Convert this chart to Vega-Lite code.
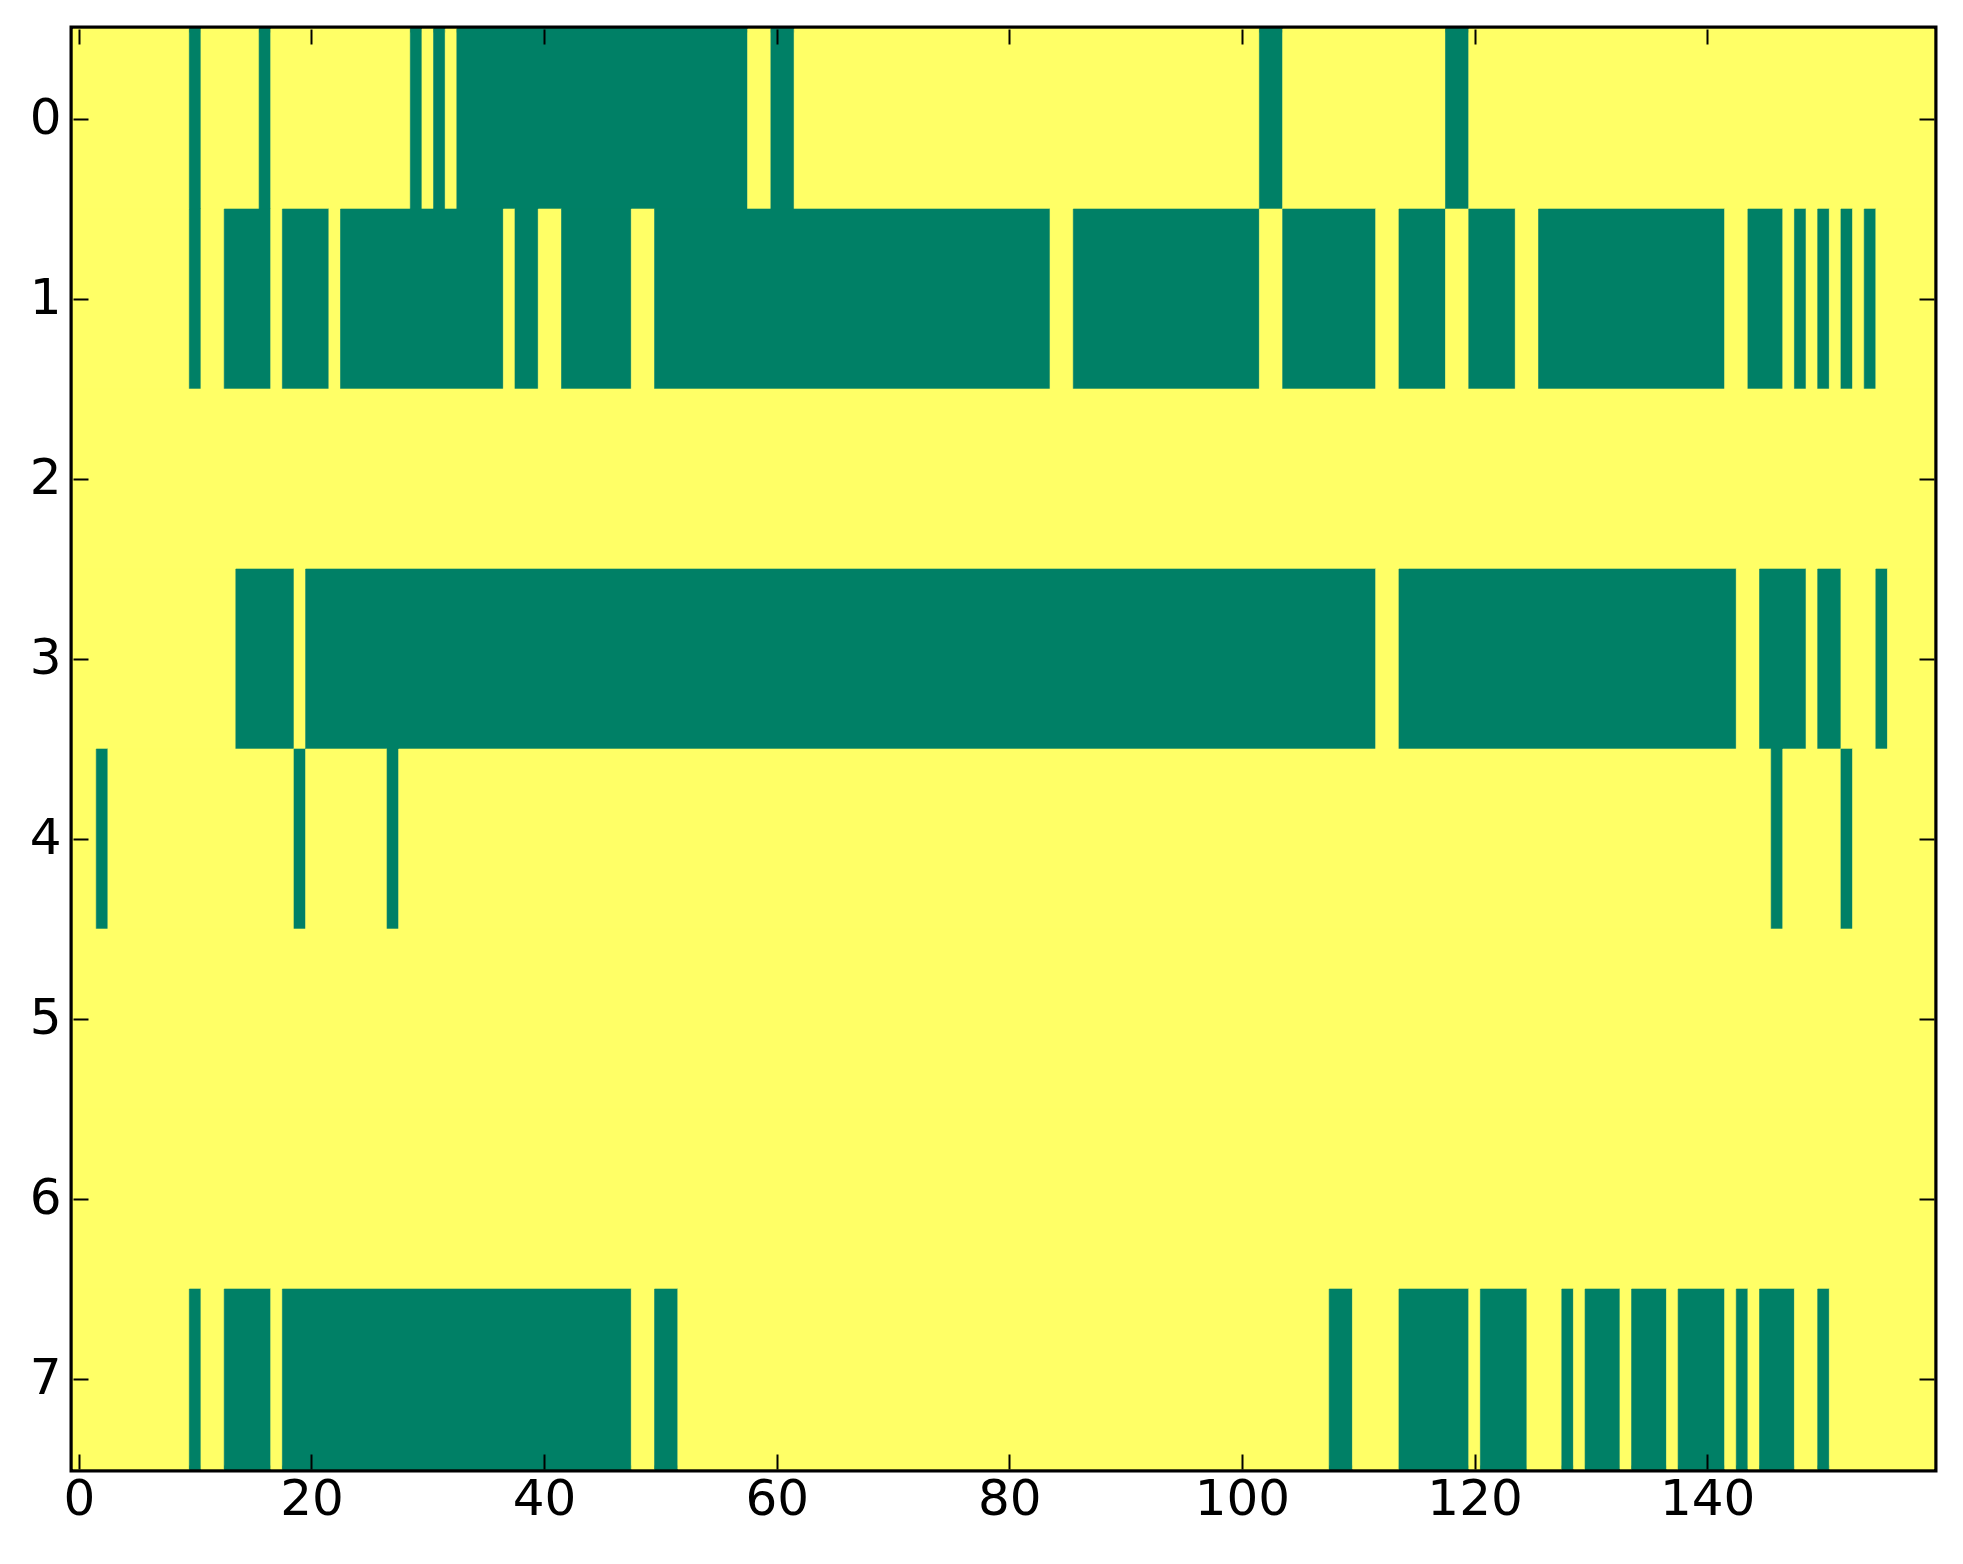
{
  "$schema": "https://vega.github.io/schema/vega-lite/v6.json",
  "width": 1861,
  "height": 1440,
  "autosize": {"type": "none"},
  "padding": {"left": 73, "top": 29, "right": 29, "bottom": 95},
  "background": "white",
  "config": {
    "view": {"stroke": "black", "strokeWidth": 7},
    "axis": {
      "grid": false,
      "labelFont": "DejaVu Sans",
      "labelFontSize": 50,
      "labelColor": "black",
      "title": null
    }
  },
  "data": {
    "values": [
      {"row": 0, "s": -0.5, "e": 9.5, "v": 1},
      {"row": 0, "s": 9.5, "e": 10.5, "v": 0},
      {"row": 0, "s": 10.5, "e": 15.5, "v": 1},
      {"row": 0, "s": 15.5, "e": 16.5, "v": 0},
      {"row": 0, "s": 16.5, "e": 28.5, "v": 1},
      {"row": 0, "s": 28.5, "e": 29.5, "v": 0},
      {"row": 0, "s": 29.5, "e": 30.5, "v": 1},
      {"row": 0, "s": 30.5, "e": 31.5, "v": 0},
      {"row": 0, "s": 31.5, "e": 32.5, "v": 1},
      {"row": 0, "s": 32.5, "e": 57.5, "v": 0},
      {"row": 0, "s": 57.5, "e": 59.5, "v": 1},
      {"row": 0, "s": 59.5, "e": 61.5, "v": 0},
      {"row": 0, "s": 61.5, "e": 101.5, "v": 1},
      {"row": 0, "s": 101.5, "e": 103.5, "v": 0},
      {"row": 0, "s": 103.5, "e": 117.5, "v": 1},
      {"row": 0, "s": 117.5, "e": 119.5, "v": 0},
      {"row": 0, "s": 119.5, "e": 159.5, "v": 1},

      {"row": 1, "s": -0.5, "e": 9.5, "v": 1},
      {"row": 1, "s": 9.5, "e": 10.5, "v": 0},
      {"row": 1, "s": 10.5, "e": 12.5, "v": 1},
      {"row": 1, "s": 12.5, "e": 16.5, "v": 0},
      {"row": 1, "s": 16.5, "e": 17.5, "v": 1},
      {"row": 1, "s": 17.5, "e": 21.5, "v": 0},
      {"row": 1, "s": 21.5, "e": 22.5, "v": 1},
      {"row": 1, "s": 22.5, "e": 36.5, "v": 0},
      {"row": 1, "s": 36.5, "e": 37.5, "v": 1},
      {"row": 1, "s": 37.5, "e": 39.5, "v": 0},
      {"row": 1, "s": 39.5, "e": 41.5, "v": 1},
      {"row": 1, "s": 41.5, "e": 47.5, "v": 0},
      {"row": 1, "s": 47.5, "e": 49.5, "v": 1},
      {"row": 1, "s": 49.5, "e": 83.5, "v": 0},
      {"row": 1, "s": 83.5, "e": 85.5, "v": 1},
      {"row": 1, "s": 85.5, "e": 101.5, "v": 0},
      {"row": 1, "s": 101.5, "e": 103.5, "v": 1},
      {"row": 1, "s": 103.5, "e": 111.5, "v": 0},
      {"row": 1, "s": 111.5, "e": 113.5, "v": 1},
      {"row": 1, "s": 113.5, "e": 117.5, "v": 0},
      {"row": 1, "s": 117.5, "e": 119.5, "v": 1},
      {"row": 1, "s": 119.5, "e": 123.5, "v": 0},
      {"row": 1, "s": 123.5, "e": 125.5, "v": 1},
      {"row": 1, "s": 125.5, "e": 141.5, "v": 0},
      {"row": 1, "s": 141.5, "e": 143.5, "v": 1},
      {"row": 1, "s": 143.5, "e": 146.5, "v": 0},
      {"row": 1, "s": 146.5, "e": 147.5, "v": 1},
      {"row": 1, "s": 147.5, "e": 148.5, "v": 0},
      {"row": 1, "s": 148.5, "e": 149.5, "v": 1},
      {"row": 1, "s": 149.5, "e": 150.5, "v": 0},
      {"row": 1, "s": 150.5, "e": 151.5, "v": 1},
      {"row": 1, "s": 151.5, "e": 152.5, "v": 0},
      {"row": 1, "s": 152.5, "e": 153.5, "v": 1},
      {"row": 1, "s": 153.5, "e": 154.5, "v": 0},
      {"row": 1, "s": 154.5, "e": 159.5, "v": 1},

      {"row": 2, "s": -0.5, "e": 159.5, "v": 1},

      {"row": 3, "s": -0.5, "e": 13.5, "v": 1},
      {"row": 3, "s": 13.5, "e": 18.5, "v": 0},
      {"row": 3, "s": 18.5, "e": 19.5, "v": 1},
      {"row": 3, "s": 19.5, "e": 111.5, "v": 0},
      {"row": 3, "s": 111.5, "e": 113.5, "v": 1},
      {"row": 3, "s": 113.5, "e": 142.5, "v": 0},
      {"row": 3, "s": 142.5, "e": 144.5, "v": 1},
      {"row": 3, "s": 144.5, "e": 148.5, "v": 0},
      {"row": 3, "s": 148.5, "e": 149.5, "v": 1},
      {"row": 3, "s": 149.5, "e": 151.5, "v": 0},
      {"row": 3, "s": 151.5, "e": 154.5, "v": 1},
      {"row": 3, "s": 154.5, "e": 155.5, "v": 0},
      {"row": 3, "s": 155.5, "e": 159.5, "v": 1},

      {"row": 4, "s": -0.5, "e": 1.5, "v": 1},
      {"row": 4, "s": 1.5, "e": 2.5, "v": 0},
      {"row": 4, "s": 2.5, "e": 18.5, "v": 1},
      {"row": 4, "s": 18.5, "e": 19.5, "v": 0},
      {"row": 4, "s": 19.5, "e": 26.5, "v": 1},
      {"row": 4, "s": 26.5, "e": 27.5, "v": 0},
      {"row": 4, "s": 27.5, "e": 145.5, "v": 1},
      {"row": 4, "s": 145.5, "e": 146.5, "v": 0},
      {"row": 4, "s": 146.5, "e": 151.5, "v": 1},
      {"row": 4, "s": 151.5, "e": 152.5, "v": 0},
      {"row": 4, "s": 152.5, "e": 159.5, "v": 1},

      {"row": 5, "s": -0.5, "e": 159.5, "v": 1},

      {"row": 6, "s": -0.5, "e": 159.5, "v": 1},

      {"row": 7, "s": -0.5, "e": 9.5, "v": 1},
      {"row": 7, "s": 9.5, "e": 10.5, "v": 0},
      {"row": 7, "s": 10.5, "e": 12.5, "v": 1},
      {"row": 7, "s": 12.5, "e": 16.5, "v": 0},
      {"row": 7, "s": 16.5, "e": 17.5, "v": 1},
      {"row": 7, "s": 17.5, "e": 47.5, "v": 0},
      {"row": 7, "s": 47.5, "e": 49.5, "v": 1},
      {"row": 7, "s": 49.5, "e": 51.5, "v": 0},
      {"row": 7, "s": 51.5, "e": 107.5, "v": 1},
      {"row": 7, "s": 107.5, "e": 109.5, "v": 0},
      {"row": 7, "s": 109.5, "e": 113.5, "v": 1},
      {"row": 7, "s": 113.5, "e": 119.5, "v": 0},
      {"row": 7, "s": 119.5, "e": 120.5, "v": 1},
      {"row": 7, "s": 120.5, "e": 124.5, "v": 0},
      {"row": 7, "s": 124.5, "e": 127.5, "v": 1},
      {"row": 7, "s": 127.5, "e": 128.5, "v": 0},
      {"row": 7, "s": 128.5, "e": 129.5, "v": 1},
      {"row": 7, "s": 129.5, "e": 132.5, "v": 0},
      {"row": 7, "s": 132.5, "e": 133.5, "v": 1},
      {"row": 7, "s": 133.5, "e": 136.5, "v": 0},
      {"row": 7, "s": 136.5, "e": 137.5, "v": 1},
      {"row": 7, "s": 137.5, "e": 141.5, "v": 0},
      {"row": 7, "s": 141.5, "e": 142.5, "v": 1},
      {"row": 7, "s": 142.5, "e": 143.5, "v": 0},
      {"row": 7, "s": 143.5, "e": 144.5, "v": 1},
      {"row": 7, "s": 144.5, "e": 147.5, "v": 0},
      {"row": 7, "s": 147.5, "e": 149.5, "v": 1},
      {"row": 7, "s": 149.5, "e": 150.5, "v": 0},
      {"row": 7, "s": 150.5, "e": 159.5, "v": 1}
    ]
  },
  "layer": [
    {
      "mark": {"type": "rect", "strokeWidth": 0.6},
      "encoding": {
        "x": {
          "field": "s",
          "type": "quantitative",
          "scale": {"domain": [-0.5, 159.5], "nice": false, "zero": false},
          "axis": {
            "orient": "bottom",
            "values": [0, 20, 40, 60, 80, 100, 120, 140],
            "domain": false,
            "ticks": true,
            "tickColor": "black",
            "tickWidth": 2,
            "tickSize": -15,
            "labelPadding": 20,
            "zindex": 1
          }
        },
        "x2": {"field": "e"},
        "y": {
          "field": "row",
          "type": "ordinal",
          "scale": {"domain": [0, 1, 2, 3, 4, 5, 6, 7], "paddingInner": 0, "paddingOuter": 0},
          "axis": {
            "orient": "left",
            "labelAngle": 0,
            "domain": false,
            "ticks": true,
            "tickColor": "black",
            "tickWidth": 2,
            "tickSize": -15,
            "labelPadding": 27,
            "zindex": 1
          }
        },
        "color": {
          "field": "v",
          "type": "nominal",
          "scale": {"domain": [0, 1], "range": ["#008066", "#ffff66"]},
          "legend": null
        },
        "stroke": {
          "field": "v",
          "type": "nominal",
          "scale": {"domain": [0, 1], "range": ["#008066", "#ffff66"]},
          "legend": null
        }
      }
    },
    {
      "mark": {"type": "rect", "opacity": 0},
      "encoding": {
        "x": {
          "field": "s",
          "type": "quantitative",
          "axis": {
            "orient": "top",
            "values": [0, 20, 40, 60, 80, 100, 120, 140],
            "labels": false,
            "domain": false,
            "ticks": true,
            "tickColor": "black",
            "tickWidth": 2,
            "tickSize": -15,
            "zindex": 1
          }
        },
        "x2": {"field": "e"},
        "y": {
          "field": "row",
          "type": "ordinal",
          "axis": {
            "orient": "right",
            "labels": false,
            "domain": false,
            "ticks": true,
            "tickColor": "black",
            "tickWidth": 2,
            "tickSize": -15,
            "zindex": 1
          }
        }
      }
    }
  ],
  "resolve": {"axis": {"x": "independent", "y": "independent"}}
}
